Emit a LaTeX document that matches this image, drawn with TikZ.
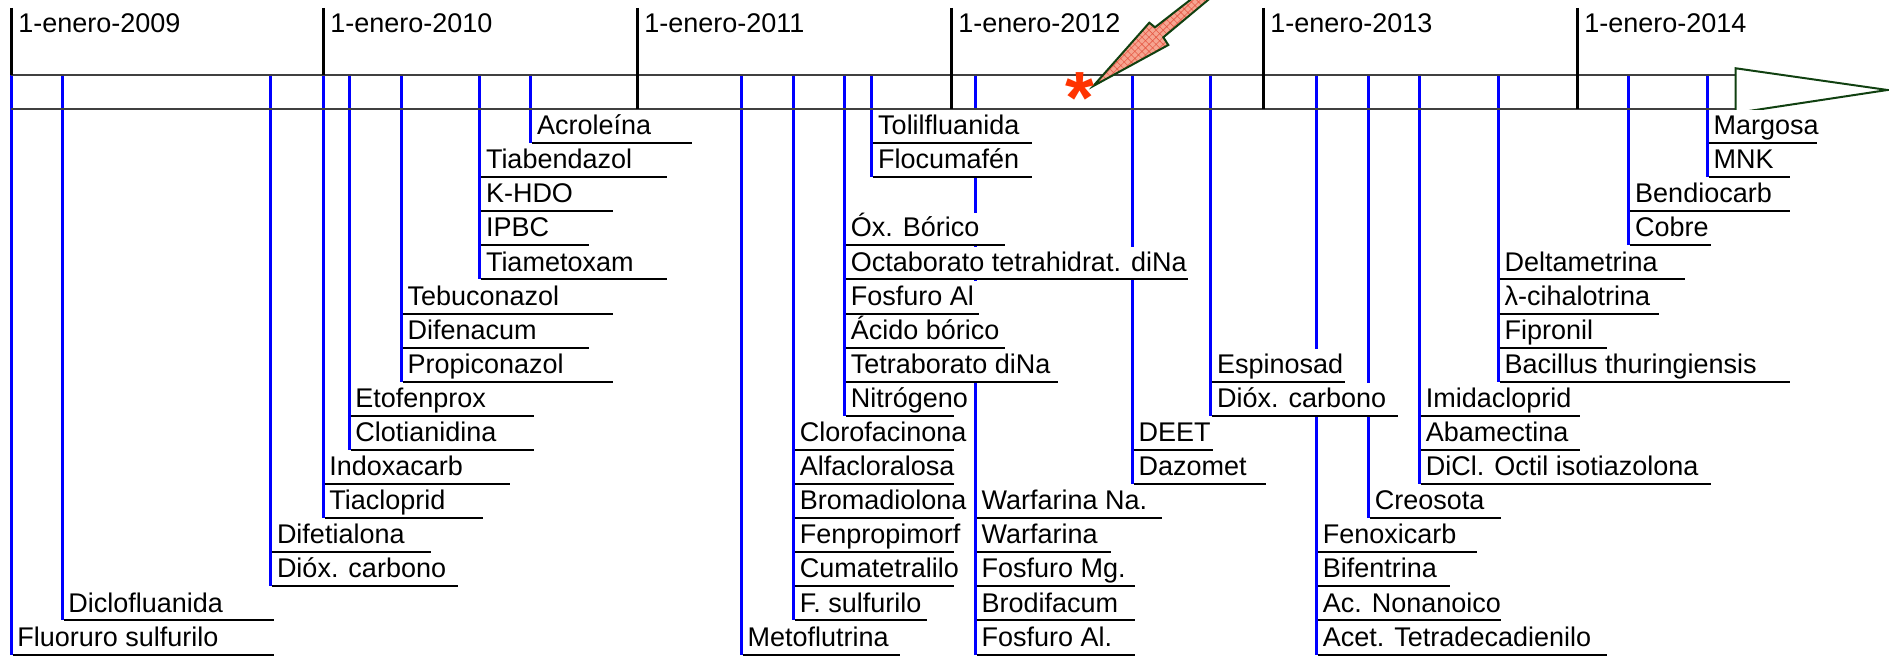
\documentclass[tikz,border=0pt]{standalone}
\usepackage{fontspec}
\setmainfont{Liberation Sans}
\usepackage{tikz}
\usetikzlibrary{backgrounds, patterns.meta}

\definecolor{evblue}{RGB}{0,0,255}
\definecolor{bandgray}{RGB}{64,64,64}
\definecolor{arrgreen}{RGB}{16,64,16}
\definecolor{astred}{RGB}{255,51,0}
\definecolor{boltfill}{RGB}{246,165,145}
\definecolor{bolthatch}{RGB}{230,90,70}

\begin{document}
\begin{tikzpicture}[x=0.5pt, y=-0.5pt,
  lbl/.style={anchor=south west, xshift=0.75pt, fill=white, inner xsep=2.25pt, inner ysep=0.7pt,
    text height=11.5pt, text depth=3.3pt, font=\fontsize{13.5}{16}\selectfont},
  uline/.style={line width=1pt, black},
  evt/.style={line width=1.5pt, evblue},
  yr/.style={anchor=base west, inner sep=0pt, font=\fontsize{13.5}{16}\selectfont}]

\useasboundingbox (0,0) rectangle (1889,656);

% Time band
\draw[bandgray, line width=1pt] (11,75) -- (1735.7,75);
\draw[bandgray, line width=1pt] (11,109) -- (1735.7,109);

% Year ticks
\draw[line width=1.5pt] (11,8) -- (11,75);
\draw[line width=1.5pt] (323,8) -- (323,75);
\draw[line width=1.5pt] (637,8) -- (637,109);
\draw[line width=1.5pt] (951,8) -- (951,109);
\draw[line width=1.5pt] (1263,8) -- (1263,109);
\draw[line width=1.5pt] (1577,8) -- (1577,109);
\node[yr] (y2009) at (18,33) {1-enero-2009};
\node[yr] (y2010) at (330,33) {1-enero-2010};
\node[yr] (y2011) at (644,33) {1-enero-2011};
\node[yr] (y2012) at (958,33) {1-enero-2012};
\node[yr] (y2013) at (1270,33) {1-enero-2013};
\node[yr] (y2014) at (1584,33) {1-enero-2014};

% Arrow head of the band
\draw[arrgreen, line width=1pt, fill=white] (1735.7,68.3) -- (1887.5,90) -- (1735.7,113) -- cycle;

% Event points on the band
\coordinate (tA) at (11,75);
\coordinate (tB) at (62,75);
\coordinate (tC) at (270.6,75);
\coordinate (tD) at (323,75);
\coordinate (tE) at (349,75);
\coordinate (tF) at (401.2,75);
\coordinate (tG) at (479.6,75);
\coordinate (tH) at (530.6,75);
\coordinate (tI) at (741.2,75);
\coordinate (tJ) at (793.5,75);
\coordinate (tK) at (844.5,75);
\coordinate (tL) at (871.8,75);
\coordinate (tM) at (975.1,75);
\coordinate (tN) at (1132.2,75);
\coordinate (tO) at (1210.6,75);
\coordinate (tP) at (1316.5,75);
\coordinate (tQ) at (1368.4,75);
\coordinate (tR) at (1419.4,75);
\coordinate (tS) at (1498.2,75);
\coordinate (tT) at (1628.8,75);
\coordinate (tU) at (1707.1,75);

% 2009
\node[lbl] (fluoruro) at (11,654.6) {Fluoruro sulfurilo};
\draw[uline] (fluoruro.south west) -- ++(261.6,0);
\node[lbl] (diclo) at (62,620.5) {Diclofluanida};
\draw[uline] (diclo.south west) -- ++(210.6,0);
\node[lbl] (difetia) at (270.6,552.3) {Difetialona};
\draw[uline] (difetia.south west) -- ++(158.8,0);
\node[lbl] (dioxA) at (270.6,586.4) {Dióx. carbono};
\draw[uline] (dioxA.south west) -- ++(185.4,0);

% 2010
\node[lbl] (indox) at (323,484.1) {Indoxacarb};
\draw[uline] (indox.south west) -- ++(185,0);
\node[lbl] (tiaclo) at (323,518.2) {Tiacloprid};
\draw[uline] (tiaclo.south west) -- ++(158.6,0);
\node[lbl] (etofen) at (349,415.9) {Etofenprox};
\draw[uline] (etofen.south west) -- ++(183.7,0);
\node[lbl] (clotia) at (349,450) {Clotianidina};
\draw[uline] (clotia.south west) -- ++(183.7,0);
\node[lbl] (tebu) at (401.2,313.6) {Tebuconazol};
\draw[uline] (tebu.south west) -- ++(210.2,0);
\node[lbl] (difena) at (401.2,347.7) {Difenacum};
\draw[uline] (difena.south west) -- ++(185.8,0);
\node[lbl] (propi) at (401.2,381.8) {Propiconazol};
\draw[uline] (propi.south west) -- ++(210.2,0);
\node[lbl] (tiabe) at (479.6,177.2) {Tiabendazol};
\draw[uline] (tiabe.south west) -- ++(185.4,0);
\node[lbl] (khdo) at (479.6,211.3) {K-HDO};
\draw[uline] (khdo.south west) -- ++(131.8,0);
\node[lbl] (ipbc) at (479.6,245.4) {IPBC};
\draw[uline] (ipbc.south west) -- ++(107.4,0);
\node[lbl] (tiame) at (479.6,279.5) {Tiametoxam};
\draw[uline] (tiame.south west) -- ++(185.4,0);
\node[lbl] (acrol) at (530.6,143.1) {Acroleína};
\draw[uline] (acrol.south west) -- ++(159.6,0);

% 2011
\node[lbl] (metof) at (741.2,654.6) {Metoflutrina};
\draw[uline] (metof.south west) -- ++(157.6,0);
\node[lbl] (cloro) at (793.5,450) {Clorofacinona};
\draw[uline] (cloro.south west) -- ++(159.2,0);
\node[lbl] (alfac) at (793.5,484.1) {Alfacloralosa};
\draw[uline] (alfac.south west) -- ++(159.2,0);
\node[lbl] (broma) at (793.5,518.2) {Bromadiolona};
\draw[uline] (broma.south west) -- ++(159.2,0);
\node[lbl] (fenpro) at (793.5,552.3) {Fenpropimorf};
\draw[uline] (fenpro.south west) -- ++(159.2,0);
\node[lbl] (cumat) at (793.5,586.4) {Cumatetralilo};
\draw[uline] (cumat.south west) -- ++(159.2,0);
\node[lbl] (fsulf) at (793.5,620.5) {F. sulfurilo};
\draw[uline] (fsulf.south west) -- ++(131.8,0);
\node[lbl] (oxbor) at (844.5,245.4) {Óx. Bórico};
\draw[uline] (oxbor.south west) -- ++(159.2,0);
\node[lbl] (octab) at (844.5,279.5) {Octaborato tetrahidrat. diNa};
\draw[uline] (octab.south west) -- ++(341.5,0);
\node[lbl] (fosAl) at (844.5,313.6) {Fosfuro Al};
\draw[uline] (fosAl.south west) -- ++(132.5,0);
\node[lbl] (acbor) at (844.5,347.7) {Ácido bórico};
\draw[uline] (acbor.south west) -- ++(159.2,0);
\node[lbl] (tetrab) at (844.5,381.8) {Tetraborato diNa};
\draw[uline] (tetrab.south west) -- ++(211.5,0);
\node[lbl] (nitro) at (844.5,415.9) {Nitrógeno};
\draw[uline] (nitro.south west) -- ++(108.2,0);
\node[lbl] (tolil) at (871.8,143.1) {Tolilfluanida};
\draw[uline] (tolil.south west) -- ++(158.4,0);
\node[lbl] (flocu) at (871.8,177.2) {Flocumafén};
\draw[uline] (flocu.south west) -- ++(158.4,0);

% 2012
\node[lbl] (warNa) at (975.1,518.2) {Warfarina Na.};
\draw[uline] (warNa.south west) -- ++(185.7,0);
\node[lbl] (warf) at (975.1,552.3) {Warfarina};
\draw[uline] (warf.south west) -- ++(133.9,0);
\node[lbl] (fosMg) at (975.1,586.4) {Fosfuro Mg.};
\draw[uline] (fosMg.south west) -- ++(158.4,0);
\node[lbl] (brodi) at (975.1,620.5) {Brodifacum};
\draw[uline] (brodi.south west) -- ++(158.4,0);
\node[lbl] (fosAlb) at (975.1,654.6) {Fosfuro Al.};
\draw[uline] (fosAlb.south west) -- ++(158.4,0);
\node[lbl] (deet) at (1132.2,450) {DEET};
\draw[uline] (deet.south west) -- ++(79.6,0);
\node[lbl] (dazo) at (1132.2,484.1) {Dazomet};
\draw[uline] (dazo.south west) -- ++(132.1,0);
\node[lbl] (espin) at (1210.6,381.8) {Espinosad};
\draw[uline] (espin.south west) -- ++(132.4,0);
\node[lbl] (dioxB) at (1210.6,415.9) {Dióx. carbono};
\draw[uline] (dioxB.south west) -- ++(185.5,0);

% 2013
\node[lbl] (fenox) at (1316.5,552.3) {Fenoxicarb};
\draw[uline] (fenox.south west) -- ++(158.8,0);
\node[lbl] (bifen) at (1316.5,586.4) {Bifentrina};
\draw[uline] (bifen.south west) -- ++(132.3,0);
\node[lbl] (nonan) at (1316.5,620.5) {Ac. Nonanoico};
\draw[uline] (nonan.south west) -- ++(183.3,0);
\node[lbl] (tetrad) at (1316.5,654.6) {Acet. Tetradecadienilo};
\draw[uline] (tetrad.south west) -- ++(288.6,0);
\node[lbl] (creos) at (1368.4,518.2) {Creosota};
\draw[uline] (creos.south west) -- ++(131.4,0);
\node[lbl] (imida) at (1419.4,415.9) {Imidacloprid};
\draw[uline] (imida.south west) -- ++(159.2,0);
\node[lbl] (abame) at (1419.4,450) {Abamectina};
\draw[uline] (abame.south west) -- ++(159.2,0);
\node[lbl] (dicl) at (1419.4,484.1) {DiCl. Octil isotiazolona};
\draw[uline] (dicl.south west) -- ++(289.8,0);
\node[lbl] (delta) at (1498.2,279.5) {Deltametrina};
\draw[uline] (delta.south west) -- ++(185.3,0);
\node[lbl] (lambda) at (1498.2,313.6) {λ-cihalotrina};
\draw[uline] (lambda.south west) -- ++(158.8,0);
\node[lbl] (fipro) at (1498.2,347.7) {Fipronil};
\draw[uline] (fipro.south west) -- ++(106.9,0);
\node[lbl] (bacil) at (1498.2,381.8) {Bacillus thuringiensis};
\draw[uline] (bacil.south west) -- ++(289.8,0);

% 2014
\node[lbl] (bendi) at (1628.8,211.3) {Bendiocarb};
\draw[uline] (bendi.south west) -- ++(159.2,0);
\node[lbl] (cobre) at (1628.8,245.4) {Cobre};
\draw[uline] (cobre.south west) -- ++(80.4,0);
\node[lbl] (margo) at (1707.1,143.1) {Margosa};
\draw[uline] (margo.south west) -- ++(108.2,0);
\node[lbl] (mnk) at (1707.1,177.2) {MNK};
\draw[uline] (mnk.south west) -- ++(80.9,0);

% Event lines (behind the labels)
\begin{scope}[on background layer]
\draw[evt] (tA) -- (tA |- fluoruro.south west);
\draw[evt] (tB) -- (tB |- diclo.south west);
\draw[evt] (tC) -- (tC |- dioxA.south west);
\draw[evt] (tD) -- (tD |- tiaclo.south west);
\draw[evt] (tE) -- (tE |- clotia.south west);
\draw[evt] (tF) -- (tF |- propi.south west);
\draw[evt] (tG) -- (tG |- tiame.south west);
\draw[evt] (tH) -- (tH |- acrol.south west);
\draw[evt] (tI) -- (tI |- metof.south west);
\draw[evt] (tJ) -- (tJ |- fsulf.south west);
\draw[evt] (tK) -- (tK |- nitro.south west);
\draw[evt] (tL) -- (tL |- flocu.south west);
\draw[evt] (tM) -- (tM |- fosAlb.south west);
\draw[evt] (tN) -- (tN |- dazo.south west);
\draw[evt] (tO) -- (tO |- dioxB.south west);
\draw[evt] (tP) -- (tP |- tetrad.south west);
\draw[evt] (tQ) -- (tQ |- creos.south west);
\draw[evt] (tR) -- (tR |- dicl.south west);
\draw[evt] (tS) -- (tS |- bacil.south west);
\draw[evt] (tT) -- (tT |- cobre.south west);
\draw[evt] (tU) -- (tU |- mnk.south west);
\end{scope}

% Pointer to today
\begin{scope}
\clip (0,0) rectangle (1889,656);
\draw[arrgreen, line width=1pt, preaction={fill=boltfill},
  pattern={Hatch[angle=45, distance=2.5pt, line width=0.3pt]}, pattern color=bolthatch]
  (1093.3,86) -- (1149.3,22.7) -- (1155,27.3) -- (1203,-10) -- (1220,-10)
  -- (1163.3,37.3) -- (1168.3,45) -- cycle;
\end{scope}
\node[text=astred, anchor=base, inner sep=0pt, font=\fontsize{37}{37}\bfseries\selectfont] (ast) at (1080,124) {*};

\end{tikzpicture}
\end{document}
